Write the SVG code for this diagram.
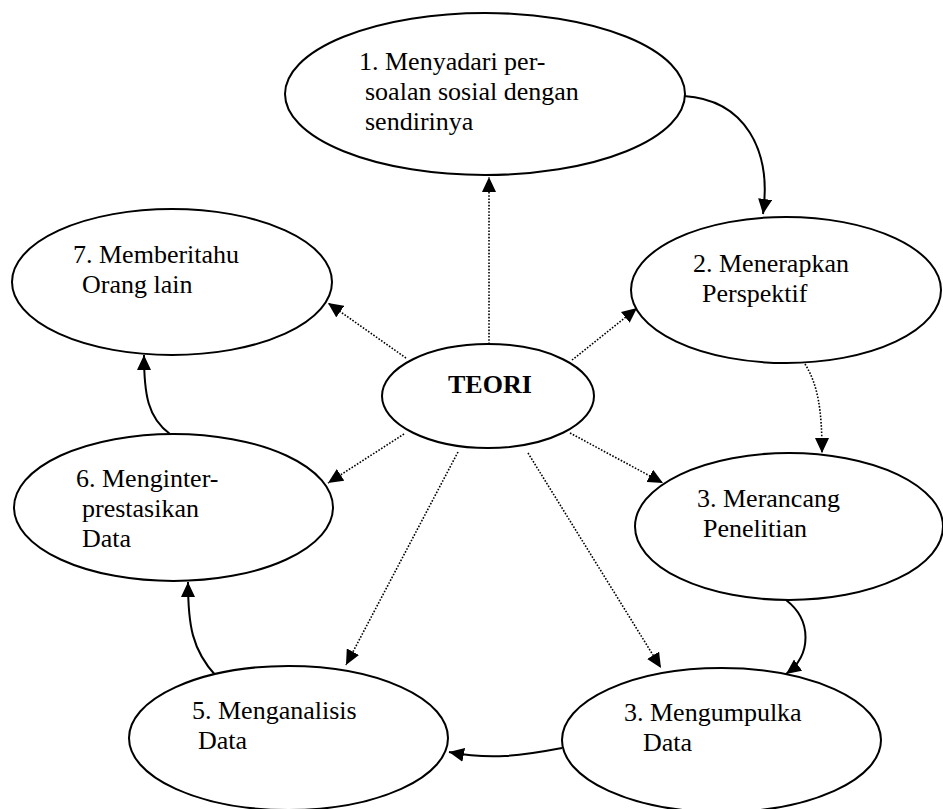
<svg xmlns="http://www.w3.org/2000/svg" width="943" height="809" viewBox="0 0 943 809">
<style>
.n{fill:#fff;stroke:#000;stroke-width:2}
.t{font-family:"Liberation Serif","Times New Roman",serif;font-size:26px;fill:#000}
.b{font-weight:bold}
.s{fill:none;stroke:#000;stroke-width:2}
.d{fill:none;stroke:#000;stroke-width:1.6;stroke-dasharray:1.6 1.6}
</style>
<defs>
<marker id="ah" markerUnits="userSpaceOnUse" markerWidth="16" markerHeight="14" refX="15" refY="7" orient="auto" viewBox="0 0 16 14">
<path d="M0,0 L15,7 L0,14 z" fill="#000"/>
</marker>
</defs>
<rect width="943" height="809" fill="#fff"/>
<g id="connectors">
<path class="s" d="M684,96 C745,100 772,150 763,214" marker-end="url(#ah)"/>
<path class="d" d="M805,364 C818,385 822,410 822,453" marker-end="url(#ah)"/>
<path class="s" d="M786,600 C812,620 812,655 786,674" marker-end="url(#ah)"/>
<path class="s" d="M562,748 C520,756 490,760 449,752" marker-end="url(#ah)"/>
<path class="s" d="M216,676 C192,650 188,625 188,582" marker-end="url(#ah)"/>
<path class="s" d="M170,434 C148,418 144,395 144,355" marker-end="url(#ah)"/>
<path class="d" d="M489,344 L489,177" marker-end="url(#ah)"/>
<path class="d" d="M406,358 L328,303" marker-end="url(#ah)"/>
<path class="d" d="M572,360 L637,308" marker-end="url(#ah)"/>
<path class="d" d="M570,433 L663,483" marker-end="url(#ah)"/>
<path class="d" d="M528,453 L661,668" marker-end="url(#ah)"/>
<path class="d" d="M458,452 L346,665" marker-end="url(#ah)"/>
<path class="d" d="M404,434 L328,483" marker-end="url(#ah)"/>
</g>
<g id="n1">
<ellipse class="n" cx="485" cy="94" rx="200" ry="81"/>
<text class="t"><tspan x="359" y="70">1. Menyadari per-</tspan><tspan x="365" y="100">soalan sosial dengan</tspan><tspan x="365" y="130">sendirinya</tspan></text>
</g>
<g id="n2">
<ellipse class="n" cx="786" cy="290" rx="155" ry="73"/>
<text class="t"><tspan x="693" y="272">2. Menerapkan</tspan><tspan x="702" y="302">Perspektif</tspan></text>
</g>
<g id="n3">
<ellipse class="n" cx="789" cy="526.5" rx="154" ry="73.5"/>
<text class="t"><tspan x="697" y="507">3. Merancang</tspan><tspan x="703" y="537">Penelitian</tspan></text>
</g>
<g id="n4">
<ellipse class="n" cx="721.5" cy="740" rx="159.5" ry="72"/>
<text class="t"><tspan x="624" y="721">3. Mengumpulka</tspan><tspan x="643" y="751">Data</tspan></text>
</g>
<g id="n5">
<ellipse class="n" cx="288.5" cy="738" rx="159.5" ry="72"/>
<text class="t"><tspan x="192" y="719">5. Menganalisis</tspan><tspan x="198" y="749">Data</tspan></text>
</g>
<g id="n6">
<ellipse class="n" cx="173.5" cy="507.5" rx="159.5" ry="73.5"/>
<text class="t"><tspan x="76" y="487">6. Menginter-</tspan><tspan x="82" y="517">prestasikan</tspan><tspan x="82" y="547">Data</tspan></text>
</g>
<g id="n7">
<ellipse class="n" cx="172" cy="282" rx="160" ry="73"/>
<text class="t"><tspan x="73" y="263">7. Memberitahu</tspan><tspan x="82" y="293">Orang lain</tspan></text>
</g>
<g id="teori">
<ellipse class="n" cx="488" cy="396" rx="106" ry="52"/>
<text class="t b" x="448" y="393">TEORI</text>
</g>
</svg>
